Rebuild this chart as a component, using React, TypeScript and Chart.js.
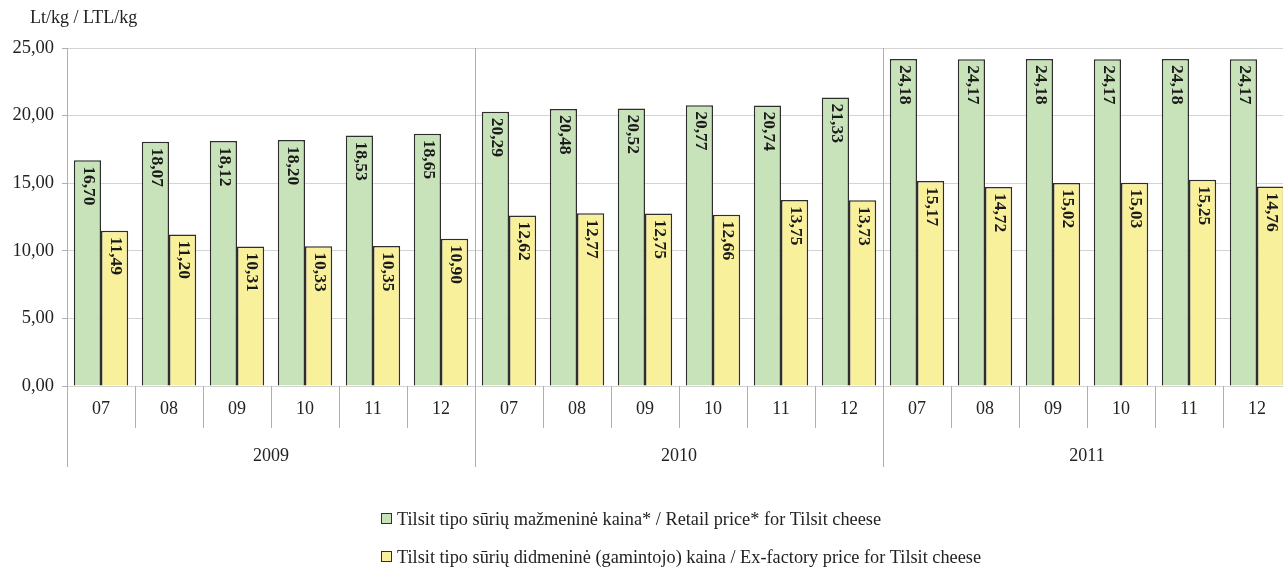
import React, { useEffect, useRef } from "react";
import { Chart, registerables } from "chart.js";

Chart.register(...registerables);

const months = ["07", "08", "09", "10", "11", "12", "07", "08", "09", "10", "11", "12", "07", "08", "09", "10", "11", "12"];
const years = ["2009", "2010", "2011"];
const monthsPerYear = 6;
const retail = [16.70, 18.07, 18.12, 18.20, 18.53, 18.65, 20.29, 20.48, 20.52, 20.77, 20.74, 21.33, 24.18, 24.17, 24.18, 24.17, 24.18, 24.17];
const exFactory = [11.49, 11.20, 10.31, 10.33, 10.35, 10.90, 12.62, 12.77, 12.75, 12.66, 13.75, 13.73, 15.17, 14.72, 15.02, 15.03, 15.25, 14.76];
const seriesNames = [
  "Tilsit tipo sūrių mažmeninė kaina* / Retail price* for Tilsit cheese",
  "Tilsit tipo sūrių didmeninė (gamintojo) kaina / Ex-factory price for Tilsit cheese",
];
const unitLabel = "Lt/kg / LTL/kg";

const GREEN = "#c8e3b9";
const YELLOW = "#f9f09c";
const BORDER = "#2e2e2e";
const GRID = "#d4d4d4";
const AXIS = "#b0b0b0";
const FONT = "'Liberation Serif', 'Times New Roman', serif";

const fmt = (v: number) => v.toFixed(2).replace(".", ",");

const extrasPlugin = {
  id: "extras",
  beforeDatasetsDraw(chart: any) {
    const { ctx, chartArea, scales } = chart;
    const x = scales.x;
    ctx.save();
    ctx.strokeStyle = AXIS;
    ctx.lineWidth = 1;
    for (let y = 1; y < years.length; y++) {
      const px = Math.round(x.getPixelForValue(y * monthsPerYear - 0.5)) + 0.5;
      ctx.beginPath();
      ctx.moveTo(px, chartArea.top);
      ctx.lineTo(px, chartArea.bottom);
      ctx.stroke();
    }
    ctx.restore();
  },
  afterDraw(chart: any) {
    const { ctx, chartArea, scales } = chart;
    const x = scales.x;
    const bottom = chartArea.bottom;
    ctx.save();
    ctx.strokeStyle = AXIS;
    ctx.lineWidth = 1;
    for (let i = 0; i <= months.length; i++) {
      const px = Math.round(x.getPixelForValue(i - 0.5)) + 0.5;
      const isYear = i % monthsPerYear === 0;
      ctx.beginPath();
      ctx.moveTo(px, bottom);
      ctx.lineTo(px, isYear ? bottom + 81 : bottom + 42);
      ctx.stroke();
    }
    ctx.fillStyle = "#222";
    ctx.textAlign = "center";
    ctx.textBaseline = "middle";
    ctx.font = `18px ${FONT}`;
    months.forEach((m, i) => {
      ctx.fillText(m, x.getPixelForValue(i), bottom + 23);
    });
    years.forEach((yr, i) => {
      const c = x.getPixelForValue(i * monthsPerYear + (monthsPerYear - 1) / 2);
      ctx.fillText(yr, c, bottom + 70);
    });
    // data labels
    ctx.font = `bold 17.5px ${FONT}`;
    ctx.fillStyle = "#1a1a1a";
    chart.data.datasets.forEach((ds: any, d: number) => {
      const meta = chart.getDatasetMeta(d);
      meta.data.forEach((bar: any, i: number) => {
        const { x: bx, y: by } = bar.getProps(["x", "y"], true);
        ctx.save();
        ctx.translate(bx + 1, by + 6);
        ctx.rotate(Math.PI / 2);
        ctx.textAlign = "left";
        ctx.textBaseline = "middle";
        ctx.fillText(fmt(ds.data[i]), 0, 0);
        ctx.restore();
      });
    });
    // unit label
    ctx.font = `18px ${FONT}`;
    ctx.textAlign = "left";
    ctx.fillStyle = "#222";
    ctx.fillText(unitLabel, 30, 18);
    // legend
    const colors = [GREEN, YELLOW];
    const rows = [519, 557];
    ctx.font = `18.3px ${FONT}`;
    seriesNames.forEach((name, i) => {
      const cy = rows[i];
      ctx.fillStyle = colors[i];
      ctx.fillRect(381, cy - 6, 11, 11);
      ctx.strokeStyle = BORDER;
      ctx.lineWidth = 1;
      ctx.strokeRect(381.5, cy - 5.5, 10, 10);
      ctx.fillStyle = "#222";
      ctx.fillText(name, 397, cy + 1);
    });
    ctx.restore();
  },
};

export default function App() {
  const ref = useRef<HTMLCanvasElement | null>(null);
  useEffect(() => {
    document.body.style.margin = "0";
    const chart = new Chart(ref.current as HTMLCanvasElement, {
      type: "bar",
      data: {
        labels: months,
        datasets: [
          {
            label: seriesNames[0],
            data: retail,
            backgroundColor: GREEN,
            borderColor: BORDER,
            borderWidth: 1.5,
            categoryPercentage: 0.8,
            barPercentage: 1.0,
          },
          {
            label: seriesNames[1],
            data: exFactory,
            backgroundColor: YELLOW,
            borderColor: BORDER,
            borderWidth: 1.5,
            categoryPercentage: 0.8,
            barPercentage: 1.0,
          },
        ],
      },
      options: {
        animation: false,
        responsive: true,
        maintainAspectRatio: false,
        layout: { padding: { top: 48, bottom: 182, left: 0, right: 0 } },
        plugins: {
          legend: { display: false },
          tooltip: { enabled: false },
        },
        scales: {
          x: { display: false },
          y: {
            min: 0,
            max: 25,
            ticks: {
              stepSize: 5,
              callback: (v: any) => fmt(Number(v)),
              font: { family: FONT, size: 18.5 },
              color: "#222",
              padding: 8,
            },
            grid: { color: GRID, tickColor: AXIS, tickLength: 5, lineWidth: 1 },
            border: { color: AXIS },
            afterFit: (s: any) => {
              s.width = 67;
            },
          },
        },
      },
      plugins: [extrasPlugin],
    });
    return () => chart.destroy();
  }, []);
  return (
    <div style={{ position: "fixed", left: 0, top: 0, width: 1283, height: 568, overflow: "hidden" }}>
      <div style={{ position: "relative", width: 1291, height: 568 }}>
        <canvas ref={ref} />
      </div>
    </div>
  );
}
